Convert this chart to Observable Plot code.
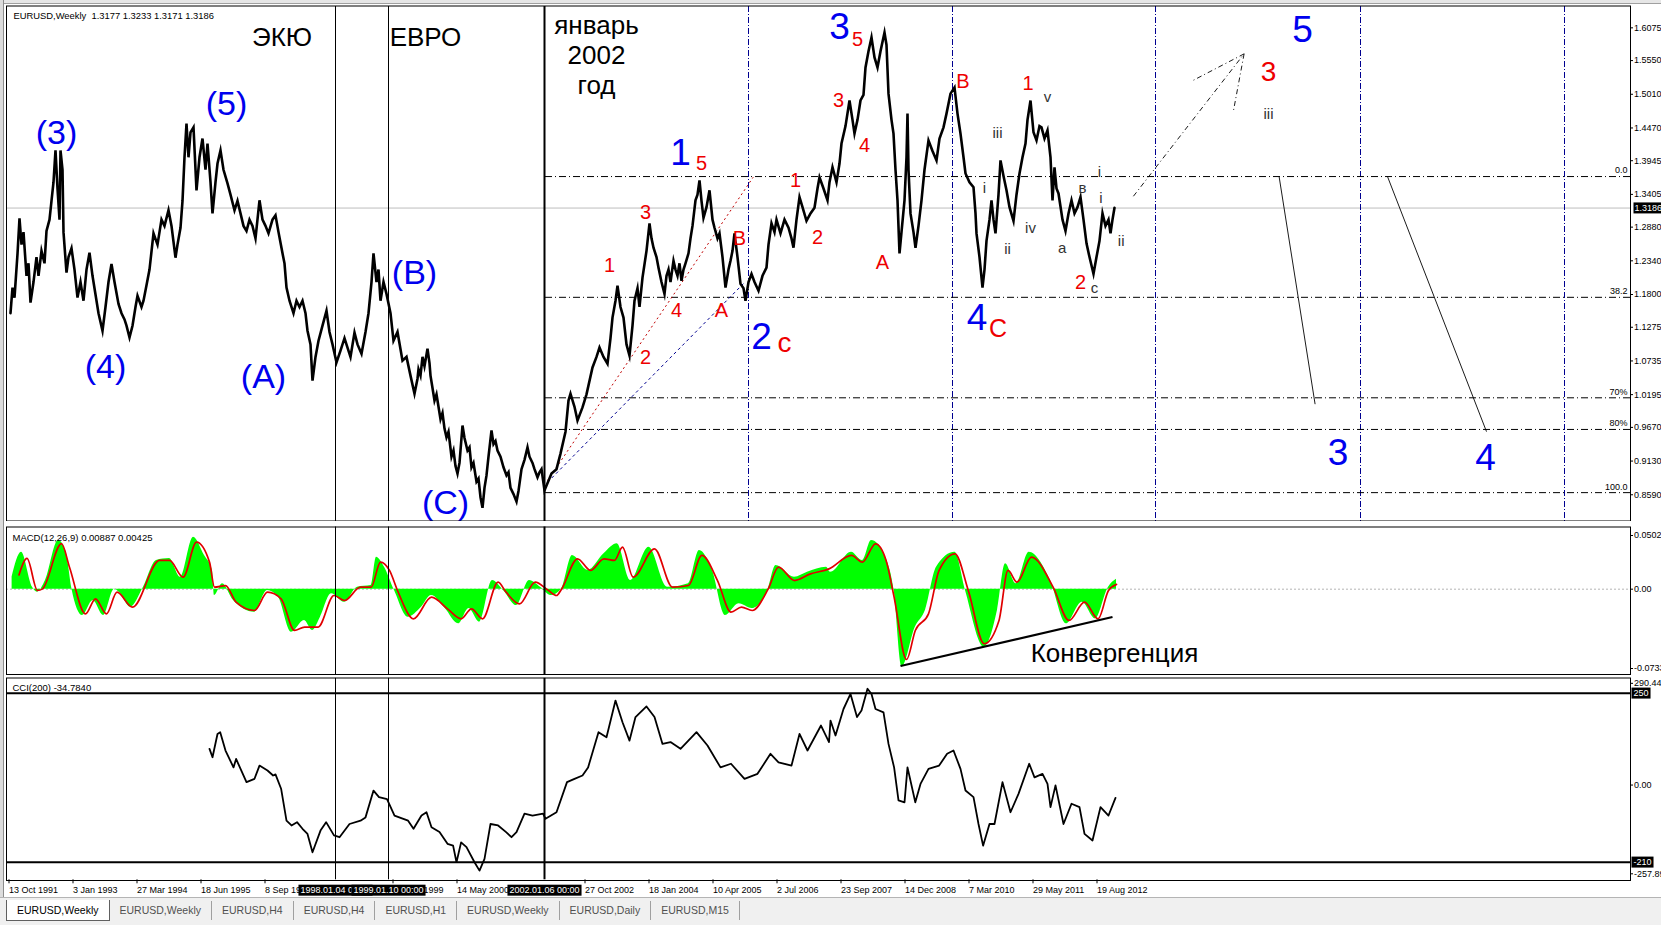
<!DOCTYPE html>
<html lang="ru">
<head>
<meta charset="utf-8">
<title>EURUSD Weekly</title>
<script src="https://cdn.jsdelivr.net/npm/d3@7"></script>
<script src="https://cdn.jsdelivr.net/npm/@observablehq/plot@0.6"></script>
<style>
html,body{margin:0;padding:0;background:#fff;}
#wrap{position:relative;width:1661px;height:925px;overflow:hidden;background:#fff;font-family:"Liberation Sans",Arial,sans-serif;}
#wrap > svg{position:absolute;left:0;}
#leftStrip{position:absolute;left:0;top:0;width:3px;height:898px;background:#dcdcdc;border-right:1px solid #8c8c8c;}
#topStrip{position:absolute;left:0;top:0;width:1661px;height:3px;background:#e6e6e6;border-bottom:1px solid #a0a0a0;}
#tabs{position:absolute;left:0;top:897px;width:1661px;height:28px;background:#f0f0f0;border-top:1px solid #b4b4b4;display:flex;align-items:flex-start;padding-left:6px;box-sizing:border-box;}
.tab{font-size:10.5px;color:#505050;height:19px;line-height:19px;padding:0 10px;margin-top:3px;border-right:1px solid #a0a0a0;white-space:nowrap;}
.tab.active{background:#fff;color:#000;border:1px solid #606060;border-top:none;margin-top:2px;height:20px;line-height:20px;}
</style>
</head>
<body>
<div id="wrap"></div>
<script>
// ---------- texts ----------
const headerText = "EURUSD,Weekly\u00a0\u00a01.3177 1.3233 1.3171 1.3186";
const macdHeader = "MACD(12,26,9) 0.00887 0.00425";
const cciHeader = "CCI(200) -34.7840";
const tabLabels = ["EURUSD,Weekly","EURUSD,Weekly","EURUSD,H4","EURUSD,H4","EURUSD,H1","EURUSD,Weekly","EURUSD,Daily","EURUSD,M15"];

// ---------- time axis (week index from 13 Oct 1991) ----------
// (labels hidden under the black date boxes are not drawn)
const dateTickWeeks = [0,64,128,192,256,384,448,576,640,704,768,832,896,960,1024,1088];
const dateTickLabels = ["13 Oct 1991","3 Jan 1993","27 Mar 1994","18 Jun 1995","8 Sep 1996","21 Feb 1999","14 May 2000","27 Oct 2002","18 Jan 2004","10 Apr 2005","2 Jul 2006","23 Sep 2007","14 Dec 2008","7 Mar 2010","29 May 2011","19 Aug 2012"];
const eventWeeks = [325, 378, 534];
const eventLabels = ["1998.01.04 00:00","1999.01.10 00:00","2002.01.06 00:00"];
const separatorWeeks = [738, 942, 1145, 1350, 1554];

// ---------- price (weekly EURUSD) ----------
const currentPrice = 1.3186;
const priceTicks = [1.6075,1.5550,1.5010,1.4470,1.3945,1.3405,1.2880,1.2340,1.1800,1.1275,1.0735,1.0195,0.9670,0.9130,0.8590,0.8065];
const priceSeries = [
[0,1.150],[2,1.191],[4,1.175],[7,1.245],[9,1.302],[11,1.26],[13,1.28],[16,1.21],[18,1.23],[20,1.167],[23,1.20],[26,1.24],[28,1.21],[31,1.25],[34,1.23],[36,1.282],[39,1.30],[41,1.33],[43,1.36],[45,1.411],[47,1.35],[49,1.30],[50,1.411],[52,1.38],[53,1.28],[56,1.215],[58,1.24],[61,1.254],[64,1.22],[67,1.175],[70,1.20],[73,1.17],[76,1.22],[79,1.247],[82,1.21],[85,1.18],[88,1.15],[92,1.122],[95,1.16],[98,1.20],[101,1.229],[104,1.20],[108,1.165],[111,1.15],[114,1.14],[116,1.13],[119,1.111],[122,1.13],[125,1.16],[127,1.178],[131,1.16],[133,1.17],[136,1.195],[139,1.22],[143,1.278],[147,1.26],[151,1.30],[154,1.29],[158,1.315],[161,1.29],[165,1.239],[167,1.26],[170,1.287],[172,1.33],[174,1.40],[176,1.454],[178,1.40],[180,1.44],[183,1.448],[186,1.347],[189,1.40],[192,1.43],[195,1.38],[197,1.422],[200,1.36],[202,1.310],[205,1.36],[207,1.39],[210,1.411],[213,1.38],[217,1.358],[220,1.34],[224,1.315],[227,1.33],[230,1.31],[233,1.29],[236,1.282],[239,1.30],[242,1.29],[245,1.270],[249,1.331],[252,1.30],[255,1.29],[258,1.278],[262,1.30],[265,1.307],[268,1.28],[272,1.246],[274,1.23],[276,1.191],[279,1.17],[283,1.150],[286,1.17],[289,1.16],[292,1.170],[295,1.15],[297,1.122],[300,1.10],[302,1.042],[305,1.08],[308,1.106],[312,1.13],[316,1.154],[319,1.12],[322,1.10],[326,1.071],[330,1.09],[334,1.11],[337,1.095],[340,1.08],[344,1.119],[347,1.10],[351,1.085],[355,1.12],[358,1.150],[361,1.20],[363,1.246],[366,1.20],[368,1.22],[370,1.170],[373,1.20],[376,1.181],[380,1.15],[383,1.106],[387,1.12],[392,1.074],[396,1.08],[400,1.05],
[404,1.021],[407,1.045],[408,1.06],[410,1.05],[412,1.08],[414,1.065],[417,1.093],[419,1.07],[420,1.05],[422,1.03],[424,1.010],[426,1.02],[428,1.00],[430,0.98],[432,0.99],[434,0.965],[436,0.951],[438,0.96],[441,0.92],[443,0.93],[445,0.905],[447,0.893],[449,0.91],[450,0.93],[452,0.970],[454,0.95],[457,0.93],[459,0.935],[461,0.903],[463,0.91],[466,0.88],[468,0.885],[470,0.855],[472,0.838],[474,0.87],[476,0.89],[478,0.92],[481,0.962],[483,0.94],[485,0.945],[487,0.93],[490,0.92],[493,0.903],[496,0.89],[498,0.895],[500,0.87],[503,0.86],[506,0.848],[508,0.865],[511,0.90],[514,0.915],[517,0.935],[519,0.92],[522,0.91],[524,0.90],[527,0.887],[529,0.895],[531,0.90],[534,0.866],
[541,0.893],[546,0.90],[550,0.925],[555,0.96],[558,1.010],[560,1.021],[564,1.00],[567,0.978],[572,0.999],[576,1.02],[582,1.063],[586,1.08],[589,1.095],[593,1.08],[597,1.069],[600,1.11],[602,1.143],[605,1.17],[607,1.194],[610,1.16],[613,1.143],[616,1.10],[619,1.082],[622,1.13],[624,1.170],[627,1.19],[629,1.16],[632,1.207],[636,1.25],[639,1.294],[641,1.27],[643,1.255],[646,1.24],[648,1.223],[651,1.20],[654,1.181],[656,1.21],[658,1.22],[660,1.20],[663,1.234],[665,1.22],[667,1.21],[669,1.23],[671,1.202],[673,1.22],[675,1.23],[678,1.246],[680,1.27],[682,1.29],[685,1.331],[687,1.34],[689,1.363],[691,1.33],[693,1.303],[696,1.32],[699,1.347],[702,1.30],[704,1.287],[707,1.27],[709,1.278],[712,1.24],[715,1.191],[718,1.22],[720,1.234],[722,1.25],[724,1.278],[727,1.24],[730,1.197],[733,1.19],[735,1.170],[738,1.20],[741,1.213],[744,1.20],[748,1.186],[752,1.21],[756,1.223],[758,1.26],[761,1.294],[764,1.28],[766,1.30],[770,1.278],[774,1.30],[778,1.287],[781,1.27],[783,1.255],[786,1.30],[789,1.336],[792,1.32],[796,1.298],[800,1.31],[804,1.319],[807,1.35],[809,1.368],[813,1.35],[817,1.331],[819,1.36],[822,1.384],[826,1.36],[829,1.39],[831,1.422],[835,1.45],[839,1.491],[842,1.46],[844,1.438],[847,1.46],[850,1.491],[853,1.50],[855,1.544],[858,1.57],[861,1.592],[864,1.56],[867,1.544],[870,1.57],[874,1.600],[876,1.58],[878,1.502],[881,1.46],[883,1.438],[885,1.38],[887,1.331],[889,1.246],[891,1.28],[894,1.331],[896,1.40],[897,1.470],[898,1.38],[900,1.310],[903,1.28],[905,1.255],[908,1.29],[911,1.331],[914,1.38],[918,1.427],[922,1.41],[926,1.395],[929,1.43],[933,1.448],[936,1.47],[940,1.502],[944,1.512],[947,1.47],[950,1.438],[953,1.40],[955,1.374],[959,1.36],[963,1.352],[965,1.31],[966,1.278],[969,1.24],[972,1.191],[974,1.22],[976,1.266],[979,1.30],[981,1.331],[983,1.30],[985,1.278],[988,1.34],[990,1.395],[993,1.37],[996,1.347],[999,1.32],[1003,1.298],[1006,1.34],[1009,1.374],[1012,1.40],[1015,1.422],[1017,1.46],[1020,1.491],[1023,1.44],[1026,1.427],[1029,1.45],[1031,1.448],[1034,1.43],[1037,1.443],[1040,1.40],[1042,1.331],[1044,1.384],[1046,1.35],[1048,1.342],[1052,1.30],[1055,1.282],[1058,1.31],[1061,1.331],[1064,1.31],[1067,1.32],[1070,1.336],[1073,1.30],[1076,1.262],[1079,1.24],[1083,1.213],[1086,1.24],[1089,1.266],[1092,1.310],[1095,1.29],[1098,1.30],[1100,1.278],[1102,1.30],[1104,1.319]
];

// Fibonacci levels drawn from the January 2002 low
const fibStartWeek = 535;
const fibLevels = [
  {label:"0.0", price:1.3691},{label:"38.2", price:1.1755},{label:"70%", price:1.0144},
  {label:"80%", price:0.9637},{label:"100.0", price:0.8624}
];
const redTrend  = [{w1:537, p1:0.8817, w2:742.7, p2:1.368}];
const blueTrend = [{w1:537, p1:0.879, w2:733, p2:1.1976}];
const projectionLines = [
  {w1:1268.6, p1:1.3691, w2:1304.6, p2:1.0042},
  {w1:1377, p1:1.3691, w2:1476, p2:0.9602}
];
const arrowLines = [
  {w1:1122.9, p1:1.3375, w2:1233.6, p2:1.5658},
  {w1:1233.6, p1:1.5658, w2:1181, p2:1.5219},
  {w1:1233.6, p1:1.5658, w2:1223, p2:1.4749}
];

// ---------- annotations ----------
const eraLabels = [{t:"ЭКЮ", w:271.5, p:1.592},{t:"ЕВРО", w:415, p:1.592}];
const yearLabel = [{t:"январь\n2002\nгод", w:586, p:1.565}];
const blueParenLabels = [
  {t:"(3)",w:46,p:1.438},{t:"(5)",w:216,p:1.486},{t:"(4)",w:95,p:1.063},
  {t:"(A)",w:253,p:1.047},{t:"(B)",w:404,p:1.215},{t:"(C)",w:435,p:0.846}
];
const blueWaveLabels = [
  {t:"1",w:670,p:1.406},{t:"2",w:751,p:1.111},{t:"3",w:829,p:1.608},{t:"4",w:966.5,p:1.1414},
  {t:"5",w:1292,p:1.603},{t:"3",w:1327.5,p:0.925},{t:"4",w:1475,p:0.917}
];
const redWaveLabels = [
  {t:"5",w:691,p:1.390},{t:"3",w:635,p:1.311},{t:"1",w:599,p:1.226},{t:"2",w:635,p:1.079},
  {t:"4",w:666,p:1.154},{t:"A",w:711,p:1.154},{t:"B",w:729,p:1.270},{t:"1",w:785,p:1.363},
  {t:"2",w:807,p:1.271},{t:"3",w:828,p:1.491},{t:"4",w:854,p:1.419},{t:"5",w:847,p:1.589},
  {t:"A",w:872,p:1.231},{t:"B",w:952.5,p:1.521},{t:"1",w:1017.6,p:1.518},{t:"2",w:1070,p:1.199}
];
const redBigLabels = [{t:"c",w:774,p:1.103},{t:"3",w:1258,p:1.536}];
const redCapLabels = [{t:"C",w:987.6,p:1.125}];
const subWaveLabels = [
  {t:"v",w:1037,p:1.496},{t:"iii",w:987,p:1.438},{t:"i",w:974,p:1.350},{t:"ii",w:997,p:1.252},
  {t:"iv",w:1020,p:1.287},{t:"a",w:1051.6,p:1.254},{t:"в",w:1072,p:1.350},{t:"c",w:1084,p:1.1895},
  {t:"i",w:1089,p:1.3755},{t:"i",w:1090.5,p:1.334},{t:"ii",w:1110.7,p:1.265},{t:"iii",w:1258,p:1.4685}
];

// ---------- MACD(12,26,9) ----------
const macdTicks = [0.0502, 0, -0.0733];
const macdMain = [
[1.6,0.0109],[11,0.0334],[22,0.0018],[27,-0.0027],[35,0.0078],[48,0.0439],[56,0.032],[61.5,0],[72,-0.0237],[82.6,-0.0102],[93,-0.0237],[104,0],[109,-0.003],[120,-0.0162],[133,0.0018],[146,0.0259],[159,0.0277],[170,0.0108],[183,0.0469],[194,0.0304],[202,0.0169],[204,-0.0057],[212,0.005],[223,-0.0102],[244,-0.0207],[257,-0.0012],[268,-0.0072],[281,-0.0388],[294,-0.0282],[302,-0.0372],[310,-0.0252],[321,-0.004],[334,-0.0117],[347,0.0018],[360.6,0.0033],[366,0.0289],[374,0.0198],[384,-0.0012],[397.6,-0.0252],[411,-0.0162],[421,-0.0057],[434.7,-0.0174],[448,-0.0312],[458.5,-0.0174],[469,-0.0297],[482,0.0078],[493,-0.0012],[506,-0.0147],[519,0.0078],[530,0.0018],[540.6,-0.0057],[551,0],[562,0.0304],[577.6,0.0169],[593.5,0.0319],[606.7,0.0409],[620,0.0078],[638.5,0.0379],[657,0.0018],[678,0.005],[689,0.0349],[702,0.0169],[715,-0.0237],[728.5,-0.0132],[741.7,-0.0174],[757.6,0],[765.5,0.0214],[784,0.0108],[797,0.0153],[816,0.0198],[820,0.0153],[841,0.0334],[852,0.0259],[861,0.0439],[875.6,0.0277],[883.6,-0.0012],[891.5,-0.0703],[904.8,-0.0343],[915,-0.019],[926,0.0198],[944.5,0.0334],[955,-0.0012],[973.7,-0.0523],[987,-0.019],[995,0.0229],[1005.5,0.0049],[1018.7,0.0334],[1040,0.0078],[1055.8,-0.0312],[1071.7,-0.0117],[1085,-0.0267],[1098,0.0018],[1106,0.0089]
];
const macdSignal = [
[8.5,0.0129],[16.5,0.0277],[27,-0.0012],[32,0.0003],[51,0.041],[59,0.0198],[75,-0.0222],[85,-0.0087],[96,-0.0222],[106.5,-0.0027],[122,-0.0162],[149,0.0259],[159,0.0259],[172.6,0.0108],[186,0.0424],[199,0.0244],[204,0.0018],[215,0.0033],[225.6,-0.0117],[244,-0.0192],[257,-0.0027],[270.6,-0.0087],[284,-0.0372],[294,-0.0342],[307.6,-0.0342],[323.5,-0.0057],[334,-0.0102],[350,0.0018],[360.6,0.0018],[370,0.0244],[379,0.0169],[387,-0.0012],[403,-0.0267],[421,-0.0072],[437,-0.0177],[450.6,-0.0267],[461,-0.0177],[472,-0.0267],[487.6,0.0063],[495.6,-0.0027],[509,-0.0132],[524.7,0.0063],[538,-0.0012],[546,-0.0057],[551,0],[567,0.0274],[580,0.0169],[593.5,0.0274],[604,0.0259],[612,0.0379],[622.6,0.0108],[644,0.0364],[662,0.0018],[678,0.0033],[691.4,0.0304],[707,0.0078],[720.5,-0.0207],[731,-0.0162],[741.7,-0.0192],[757.6,0],[768,0.0199],[784,0.0078],[800,0.0138],[818.5,0.0183],[841,0.0304],[852,0.0244],[865,0.0409],[875.6,0.0259],[883.6,-0.0072],[896,-0.0634],[904.8,-0.0372],[918,-0.0222],[928.6,0.0169],[944.5,0.0319],[957.8,-0.0012],[973.7,-0.0492],[988.5,-0.0282],[997.5,0.0169],[1006.5,0.0063],[1021,0.0289],[1042.6,0.0018],[1058.5,-0.0282],[1074,-0.0117],[1087.6,-0.0267],[1098,-0.0012],[1106,0.0043]
];
const convergenceLine = [{w1:890, v1:-0.0692, w2:1102, v2:-0.0251}];
const convergenceLabel = [{t:"Конвергенция", w:1104, v:-0.058}];

// ---------- CCI(200) ----------
const cciLevels = [250, -210];
const cciSeries = [
[199,98.5],[202,75.7],[207,139],[209.7,144],[215,94],[223,48],[225.6,71],[236,8],[244,17],[249,53],[257,39.5],[262.6,26],[265,29],[270.6,-10],[276,-97],[281,-110],[286.5,-101],[292,-119],[297,-133],[302,-183],[310,-124],[315.6,-101],[323.5,-137],[329,-142],[339,-106],[350,-97],[355,-88],[363,-15],[368.5,-33],[376.5,-38],[384,-83],[397.6,-97],[403,-119],[411,-83],[416,-74],[421,-115],[429,-128],[437,-160],[442.6,-165],[446,-210],[450.6,-156],[456,-169],[464,-210],[469,-233],[474,-201],[480,-106],[487.6,-110],[495.6,-128],[501,-142],[506,-128],[514,-78],[522,-83],[532.6,-78],[535,-92],[546,-74],[556.5,8],[564,17],[572,26],[577.6,48],[588,144],[596,130],[605,230],[612,171],[619,121],[625,185],[636,214],[644,185],[652,112],[660,117],[670,98.5],[686,144],[697,107.5],[710,48],[720.5,58],[734,17],[747,30.5],[760,85],[768,62],[781,53],[789,139],[797,94],[810.5,162],[818.5,117],[820,175.6],[825,135],[833,207],[840,248],[846.5,185],[851,203],[857,262],[861,248],[865,207],[873,198],[878,112],[883.6,48],[888,-42],[894,-47],[897,48],[904.8,-47],[910,3],[918,44],[928.6,53],[936.6,85],[943,94],[950,44],[955,-15],[963,-33],[968,-106],[972.6,-165],[979,-106],[984,-106],[992,8],[1000,-74],[1008,-24],[1018.7,58],[1024,21],[1032,30.5],[1037,3],[1040,-60],[1045,-1],[1053,-106],[1061,-51],[1069,-60],[1074,-133],[1082,-151],[1090,-60],[1098,-83],[1105,-34.78]
];

(function () {
const FONT = '"Liberation Sans", Arial, sans-serif';
const BLUE = "#0000ee", RED = "#ee0000", NAVY = "#000090";
const W = 1661;
const xScale = {domain: [-4, 1620], axis: null};
const margins = {marginLeft: 6, marginRight: 31};
const wx = d => d.w, py = d => d.p;
const axisOpts = {anchor: "right", tickSize: 2, tickPadding: 1.5, fontSize: 9};
const dateLabelByWeek = new Map(dateTickWeeks.map((w, i) => [w, dateTickLabels[i]]));

const pricePlot = Plot.plot({
  width: W, height: 527, marginTop: 6, marginBottom: 0, ...margins,
  x: xScale,
  y: {domain: [0.8065, 1.6417], axis: null},
  style: {fontFamily: FONT, background: "white", overflow: "visible"},
  marks: [
    Plot.ruleY([currentPrice], {stroke: "#bdbdbd"}),
    Plot.ruleX(separatorWeeks, {stroke: NAVY, strokeDasharray: "6,2,1,2"}),
    Plot.ruleY(fibLevels, {y: "price", x1: () => fibStartWeek, x2: () => 1620, stroke: "black", strokeDasharray: "7,3,1,3"}),
    Plot.text(fibLevels, {y: "price", text: "label", frameAnchor: "right", textAnchor: "end", dx: -3, dy: -6, fontSize: 9}),
    Plot.ruleX(eventWeeks.slice(0, 2), {stroke: "black"}),
    Plot.ruleX(eventWeeks.slice(2), {stroke: "black", strokeWidth: 2}),
    Plot.link(redTrend, {x1: "w1", y1: "p1", x2: "w2", y2: "p2", stroke: "#c00000", strokeDasharray: "2,3"}),
    Plot.link(blueTrend, {x1: "w1", y1: "p1", x2: "w2", y2: "p2", stroke: NAVY, strokeDasharray: "3,3"}),
    Plot.link(projectionLines, {x1: "w1", y1: "p1", x2: "w2", y2: "p2", stroke: "black", strokeWidth: 0.9}),
    Plot.link(arrowLines, {x1: "w1", y1: "p1", x2: "w2", y2: "p2", stroke: "black", strokeWidth: 0.9, strokeDasharray: "5,3,1,3"}),
    Plot.line(priceSeries, {x: d => d[0], y: d => d[1], stroke: "black", strokeWidth: 2.6, strokeLinejoin: "miter", strokeMiterlimit: 6}),
    Plot.text(eraLabels, {x: wx, y: py, text: "t", fontSize: 26, fill: "black"}),
    Plot.text(yearLabel, {x: wx, y: py, text: "t", fontSize: 26, lineHeight: 1.15, fill: "black"}),
    Plot.text(blueParenLabels, {x: wx, y: py, text: "t", fontSize: 34, fill: BLUE}),
    Plot.text(blueWaveLabels, {x: wx, y: py, text: "t", fontSize: 37, fill: BLUE}),
    Plot.text(redWaveLabels, {x: wx, y: py, text: "t", fontSize: 20, fill: RED}),
    Plot.text(redBigLabels, {x: wx, y: py, text: "t", fontSize: 28, fill: RED}),
    Plot.text(redCapLabels, {x: wx, y: py, text: "t", fontSize: 25, fill: RED}),
    Plot.text(subWaveLabels, {x: wx, y: py, text: "t", fontSize: 15, fill: "#333"}),
    Plot.text([headerText], {frameAnchor: "top-left", dx: 7, dy: 6, fontSize: 9.4}),
    Plot.frame({stroke: "black", insetTop: -0.5, insetBottom: 6.5}),
    Plot.axisY(priceTicks, {...axisOpts, tickFormat: d => d.toFixed(4)}),
    Plot.text([currentPrice], {y: d => d, text: d => d.toFixed(4), frameAnchor: "right", textAnchor: "start", dx: 4, fill: "white", fontSize: 9})
  ]
});

const macdPlot = Plot.plot({
  width: W, height: 156, marginTop: 12, marginBottom: 7, ...margins,
  x: xScale,
  y: {domain: [-0.0733, 0.0502], axis: null},
  style: {fontFamily: FONT, background: "white", overflow: "visible"},
  marks: [
    Plot.ruleY([0], {stroke: "#b4b4b4", strokeDasharray: "2,2"}),
    Plot.areaY(macdMain, {x: d => d[0], y: d => d[1], fill: "#00ff00", curve: "monotone-x"}),
    Plot.line(macdSignal, {x: d => d[0], y: d => d[1], stroke: "#e00000", strokeWidth: 1.7, curve: "monotone-x"}),
    Plot.link(convergenceLine, {x1: "w1", y1: "v1", x2: "w2", y2: "v2", stroke: "black", strokeWidth: 2.2}),
    Plot.text(convergenceLabel, {x: "w", y: "v", text: "t", fontSize: 26, fill: "black"}),
    Plot.ruleX(eventWeeks.slice(0, 2), {stroke: "black", insetTop: -6.5, insetBottom: -4}),
    Plot.ruleX(eventWeeks.slice(2), {stroke: "black", strokeWidth: 2, insetTop: -6.5, insetBottom: -4}),
    Plot.text([macdHeader], {frameAnchor: "top-left", dx: 6, dy: 1, fontSize: 9.5}),
    Plot.frame({stroke: "black", insetTop: -6.5, insetBottom: -4}),
    Plot.axisY([macdTicks[0]], {...axisOpts, tickFormat: d => d.toFixed(4), dy: 2}),
    Plot.axisY([macdTicks[1]], {...axisOpts, tickFormat: () => "0.00"}),
    Plot.axisY([macdTicks[2]], {...axisOpts, tickFormat: d => d.toFixed(4), dy: -2})
  ]
});

const cciPlot = Plot.plot({
  width: W, height: 221, marginTop: 0.84, marginBottom: 18.7, ...margins,
  x: xScale,
  y: {domain: [-257.89, 290.44], axis: null},
  style: {fontFamily: FONT, background: "white", overflow: "visible"},
  marks: [
    Plot.ruleY(cciLevels, {stroke: "black", strokeWidth: 2}),
    Plot.ruleX(eventWeeks.slice(0, 2), {stroke: "black"}),
    Plot.ruleX(eventWeeks.slice(2), {stroke: "black", strokeWidth: 2}),
    Plot.line(cciSeries, {x: d => d[0], y: d => d[1], stroke: "black", strokeWidth: 1.8}),
    Plot.text([cciHeader], {frameAnchor: "top-left", dx: 6, dy: 5.5, fontSize: 9.5}),
    Plot.frame({stroke: "black", insetTop: -0.34, insetBottom: -0.7}),
    Plot.axisY([290.44], {...axisOpts, tickFormat: d => d.toFixed(2), dy: 5}),
    Plot.axisY([0], {...axisOpts, tickFormat: () => "0.00"}),
    Plot.axisY([-257.89], {...axisOpts, tickFormat: d => d.toFixed(2), dy: -6}),
    Plot.text(cciLevels, {y: d => d, text: d => String(d), frameAnchor: "right", textAnchor: "start", dx: 3, fill: "white", fontSize: 9}),
    Plot.axisX(dateTickWeeks, {anchor: "bottom", tickSize: 4, tickPadding: 3, tickFormat: d => dateLabelByWeek.get(d), textAnchor: "start", dx: -1.5, fontSize: 9}),
    Plot.text(eventWeeks, {x: d => d, text: (d, i) => eventLabels[i], frameAnchor: "bottom", lineAnchor: "middle", dy: 10.5, fill: "white", fontSize: 9})
  ]
});

const wrap = document.getElementById("wrap");
[[pricePlot, 0], [macdPlot, 521], [cciPlot, 677]].forEach(([svg, y0]) => {
  svg.style.top = y0 + "px";
  svg.style.position = "absolute";
  svg.style.left = "0px";
  svg.style.maxWidth = "none";
  wrap.appendChild(svg);
});

// black label boxes behind the white texts (MT4 style)
function boxify(svg, padX) {
  svg.querySelectorAll('g[fill="white"] text').forEach(t => {
    const b = t.getBBox();
    const r = document.createElementNS("http://www.w3.org/2000/svg", "rect");
    r.setAttribute("x", b.x - padX);
    r.setAttribute("y", b.y - 0.5);
    r.setAttribute("width", b.width + 2 * padX);
    r.setAttribute("height", b.height + 1);
    r.setAttribute("fill", "black");
    const tr = t.getAttribute("transform");
    if (tr) r.setAttribute("transform", tr);
    t.parentNode.insertBefore(r, t);
  });
}
boxify(pricePlot, 1);
boxify(cciPlot, 2);

const topStrip = document.createElement("div"); topStrip.id = "topStrip"; wrap.appendChild(topStrip);
const leftStrip = document.createElement("div"); leftStrip.id = "leftStrip"; wrap.appendChild(leftStrip);
const tabs = document.createElement("div"); tabs.id = "tabs";
tabLabels.forEach((t, i) => {
  const s = document.createElement("div");
  s.className = "tab" + (i === 0 ? " active" : "");
  s.textContent = t;
  tabs.appendChild(s);
});
wrap.appendChild(tabs);
})();
</script>
</body>
</html>
